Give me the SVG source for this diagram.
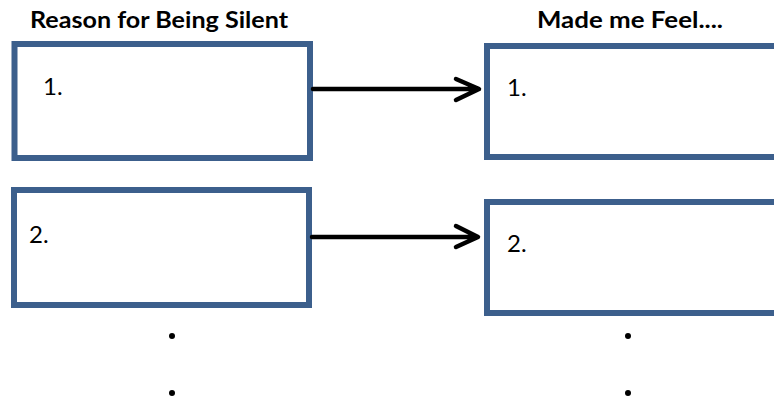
<svg xmlns="http://www.w3.org/2000/svg" width="774" height="402" viewBox="0 0 774 402">
<style>
.box{fill:#fff;stroke:#3C5F8C;stroke-width:6}
.title{font-family:Lato,"Open Sans","Liberation Sans",sans-serif;font-weight:bold;font-size:22px;fill:#000}
.num{font-family:Lato,"Open Sans","Liberation Sans",sans-serif;font-size:24px;fill:#000}
.conn{stroke:#000;stroke-width:4.5;fill:none;stroke-linecap:round;stroke-linejoin:round}
.dot{fill:#000}
</style>
<rect width="774" height="402" fill="#fff"/>
<text class="title" x="30" y="28" textLength="258" lengthAdjust="spacingAndGlyphs">Reason for Being Silent</text>
<text class="title" x="537" y="28" textLength="186" lengthAdjust="spacingAndGlyphs">Made me Feel....</text>
<g id="reason1"><rect class="box" x="14.5" y="44" width="295.5" height="114"/><text class="num" x="43" y="95">1.</text></g>
<g id="feel1"><rect class="box" x="487" y="46" width="300" height="111"/><text class="num" x="507" y="96">1.</text></g>
<g id="reason2"><rect class="box" x="14" y="190" width="295" height="115"/><text class="num" x="29" y="243">2.</text></g>
<g id="feel2"><rect class="box" x="487" y="202" width="300" height="111"/><text class="num" x="507" y="252">2.</text></g>
<g id="connectors">
<path class="conn" d="M313 89 H478 M456 79 L479 89 L456 100"/>
<path class="conn" d="M312 237 H477 M456 226 L478 237 L456 247"/>
</g>
<g id="dots">
<circle class="dot" cx="172" cy="336" r="3"/>
<circle class="dot" cx="172" cy="393" r="3"/>
<circle class="dot" cx="628" cy="336" r="3"/>
<circle class="dot" cx="628" cy="393" r="3"/>
</g>
</svg>
